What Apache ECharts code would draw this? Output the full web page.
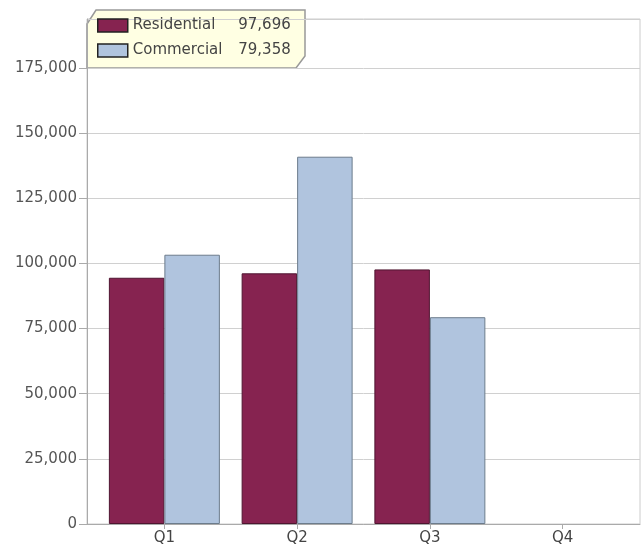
<!DOCTYPE html>
<html>
<head>
<meta charset="utf-8">
<script src="https://cdn.jsdelivr.net/npm/echarts@6/dist/echarts.min.js"></script>
<style>html,body{margin:0;padding:0;background:#fff}#c{width:642px;height:551px}</style>
</head>
<body>
<div id="c"></div>
<script>
var categories = ['Q1', 'Q2', 'Q3', 'Q4'];
var residential = [94500, 96200, 97696, null];
var commercial = [103340, 140950, 79358, null];
var yTicks = [0, 25000, 50000, 75000, 100000, 125000, 150000, 175000];
var yMax = 193800;

function fmt(v) { return v.toLocaleString('en-US'); }
function lastVal(arr) { for (var i = arr.length - 1; i >= 0; i--) if (arr[i] != null) return arr[i]; return null; }
var legendVals = { 'Residential': lastVal(residential), 'Commercial': lastVal(commercial) };

var FONT = 'DejaVu Sans';
var chart = echarts.init(document.getElementById('c'), null, { renderer: 'canvas' });
chart.setOption({
  animation: false,
  textStyle: { fontFamily: FONT },
  grid: [
    { left: 87, right: 2, top: 19, bottom: 27, show: true, borderColor: '#cccccc', borderWidth: 1, backgroundColor: 'transparent' },
    { left: 98, right: 13, top: 19, bottom: 27 }
  ],
  xAxis: [
    { gridIndex: 0, type: 'value', min: 0, max: 1, axisLabel: { show: false }, splitLine: { show: false },
      axisTick: { show: false }, axisLine: { show: true, lineStyle: { color: '#aaaaaa', width: 1 } } },
    { gridIndex: 1, type: 'category', data: categories, boundaryGap: true,
      axisLine: { show: false },
      axisTick: { show: true, alignWithLabel: true, length: 5, lineStyle: { color: '#aaaaaa' } },
      axisLabel: { color: '#444444', fontSize: 15, fontFamily: FONT, margin: 7 } }
  ],
  yAxis: [
    { gridIndex: 0, type: 'value', min: 0, max: yMax, interval: 25000,
      axisLabel: { color: '#555555', fontSize: 15, fontFamily: FONT, margin: 10, showMaxLabel: false,
        formatter: function (v) { return yTicks.indexOf(v) >= 0 ? fmt(v) : ''; } },
      axisLine: { show: true, lineStyle: { color: '#aaaaaa', width: 1 } },
      axisTick: { show: true, length: 8, lineStyle: { color: '#aaaaaa' } },
      splitLine: { show: true, lineStyle: { color: '#d0d0d0', width: 1 } } },
    { gridIndex: 1, type: 'value', min: 0, max: yMax, show: false, splitLine: { show: false } }
  ],
  legend: {
    orient: 'vertical', left: 97, top: 18, padding: 0,
    itemWidth: 30, itemHeight: 13, itemGap: 10,
    icon: 'rect',
    itemStyle: { borderColor: '#222222', borderWidth: 1.5 },
    data: ['Residential', 'Commercial'],
    formatter: function (name) { return '{n|' + name + '}{v|' + fmt(legendVals[name]) + '}'; },
    textStyle: {
      fontFamily: FONT, fontSize: 15, color: '#444444',
      rich: {
        n: { width: 105, fontSize: 15, fontFamily: FONT, color: '#444444' },
        v: { width: 53, align: 'right', fontSize: 15, fontFamily: FONT, color: '#444444' }
      }
    }
  },
  graphic: [
    { type: 'polygon', z: 0, zlevel: 0,
      shape: { points: [[87, 24], [96, 10], [305, 10], [305, 56], [296, 68], [87, 68]] },
      style: { fill: '#ffffe3', stroke: '#999999', lineWidth: 1.5 } }
  ],
  series: [
    { name: 'Residential', type: 'bar', xAxisIndex: 1, yAxisIndex: 1, data: residential,
      barGap: '0%', barCategoryGap: '16.4%',
      itemStyle: { color: '#862350', borderColor: '#4f1530', borderWidth: 1 } },
    { name: 'Commercial', type: 'bar', xAxisIndex: 1, yAxisIndex: 1, data: commercial,
      barGap: '0%', barCategoryGap: '16.4%',
      itemStyle: { color: '#b0c4de', borderColor: '#6c7c8c', borderWidth: 1 } }
  ]
});
</script>
</body>
</html>
